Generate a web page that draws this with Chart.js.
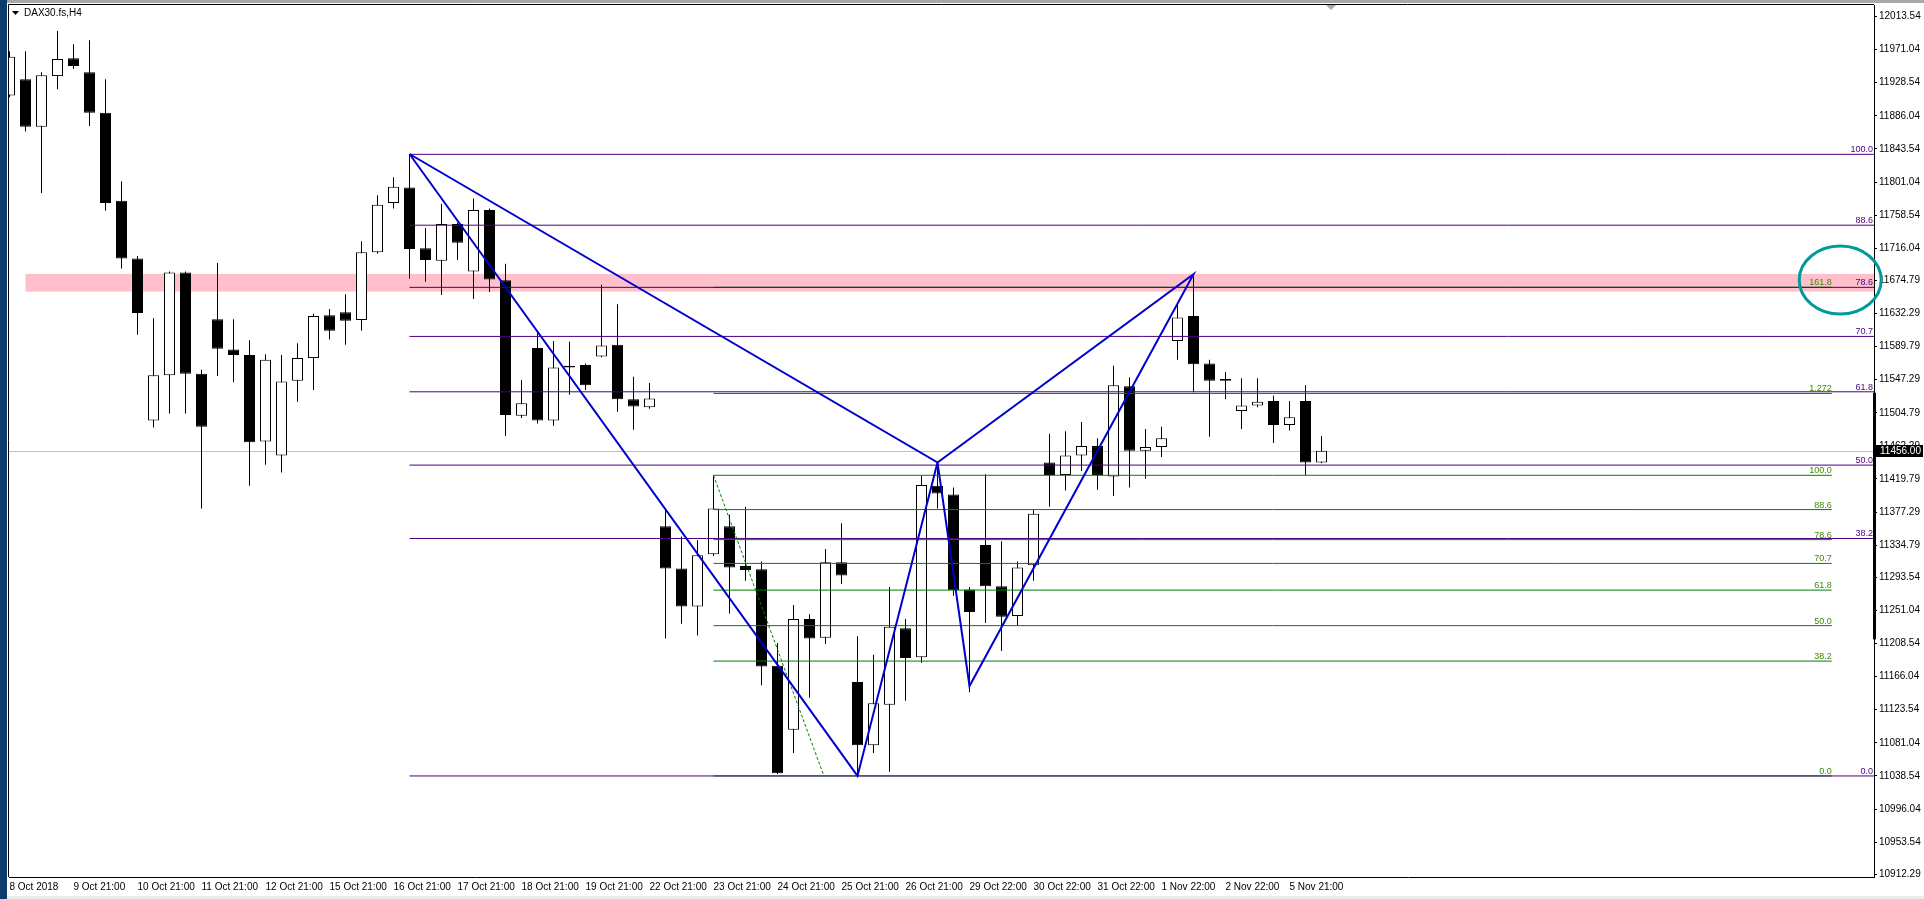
<!DOCTYPE html>
<html>
<head>
<meta charset="utf-8">
<title>DAX30.fs,H4</title>
<script src="https://cdn.jsdelivr.net/npm/chart.js@4.4.1/dist/chart.umd.min.js"></script>
<style>
  html, body { margin: 0; padding: 0; background: #fff; overflow: hidden; }
  #wrap { position: relative; width: 1924px; height: 899px; }
</style>
</head>
<body>
<div id="wrap"><canvas id="chart" width="1924" height="899"></canvas></div>
<script>
// H4 candles, 8 Oct 2018 -> 5 Nov 2018
const candleOpen = [
  11912, 11933, 11872, 11937, 11960, 11942, 11890, 11777, 11703, 11495,
  11553, 11685, 11555, 11625, 11586, 11579, 11468, 11450, 11546, 11575,
  11630, 11634, 11624, 11711, 11774, 11794, 11716, 11700, 11747, 11686,
  11765, 11675, 11501, 11588, 11495, 11565, 11566, 11577, 11592, 11522,
  11512, 11359, 11305, 11256, 11323, 11359, 11308, 11304, 11180, 11098,
  11240, 11216, 11313, 11159, 11078, 11130, 11228, 11191, 11411, 11400,
  11278, 11335, 11282, 11244, 11309, 11441, 11425, 11450, 11462, 11423,
  11539, 11456, 11461, 11597, 11629, 11568, 11548, 11507, 11514, 11520,
  11489, 11520, 11441
];
const candleHigh = [
  11969, 11969, 11942, 11995, 11978, 11983, 11933, 11802, 11706, 11626,
  11686, 11686, 11560, 11697, 11625, 11598, 11580, 11579, 11594, 11632,
  11638, 11657, 11725, 11784, 11807, 11837, 11742, 11773, 11749, 11780,
  11767, 11696, 11547, 11609, 11597, 11596, 11568, 11669, 11644, 11551,
  11543, 11382, 11346, 11341, 11424.5, 11374, 11384, 11314, 11209, 11258,
  11246, 11330, 11363, 11218, 11194, 11281, 11240, 11424, 11441, 11409,
  11281, 11426, 11340, 11314, 11380, 11478, 11481, 11493, 11472, 11565,
  11550, 11484, 11487, 11643, 11682.6, 11573, 11557, 11549, 11549, 11527,
  11520, 11540, 11475
];
const candleLow = [
  11910, 11866, 11787, 11920, 11946, 11873, 11764, 11690, 11605, 11486,
  11504, 11504, 11382, 11552, 11544, 11411, 11438, 11428, 11519, 11534,
  11599, 11592, 11610, 11709, 11767, 11677, 11673, 11656, 11701, 11651,
  11660, 11475, 11498, 11491, 11488, 11528, 11534, 11576, 11506, 11483,
  11510, 11215, 11234, 11219, 11321, 11247, 11289, 11155, 11041, 11068,
  11139, 11208, 11285, 11038.54, 11068, 11044, 11135, 11184, 11382, 11270,
  11146, 11235, 11199, 11231, 11289, 11384, 11405, 11430, 11406, 11398,
  11409, 11420, 11448, 11573, 11531, 11474, 11522, 11484, 11512, 11466,
  11482, 11425, 11440
];
const candleClose = [
  11962, 11872, 11938, 11959, 11950, 11890, 11774, 11703, 11633, 11553,
  11685, 11555, 11487, 11587, 11579, 11467, 11573, 11545, 11575, 11629,
  11610, 11623, 11711, 11772, 11795, 11715, 11701, 11747, 11723, 11765,
  11676, 11502, 11517, 11495, 11563, 11563, 11540, 11591, 11522, 11513,
  11523, 11305, 11256, 11322, 11382, 11306, 11303, 11179, 11042, 11240,
  11215, 11313, 11296, 11078, 11132, 11230, 11190, 11412, 11401, 11277,
  11249, 11282, 11243, 11306, 11375, 11425, 11450, 11462, 11425, 11540,
  11456, 11461, 11472, 11627, 11567, 11546, 11546, 11514, 11519, 11489,
  11499, 11441, 11456
];

// time axis: one label every 4 bars (one trading day)
const dateLabels = [
  '8 Oct 2018', '9 Oct 21:00', '10 Oct 21:00', '11 Oct 21:00', '12 Oct 21:00',
  '15 Oct 21:00', '16 Oct 21:00', '17 Oct 21:00', '18 Oct 21:00', '19 Oct 21:00',
  '22 Oct 21:00', '23 Oct 21:00', '24 Oct 21:00', '25 Oct 21:00', '26 Oct 21:00',
  '29 Oct 22:00', '30 Oct 22:00', '31 Oct 22:00', '1 Nov 22:00', '2 Nov 22:00',
  '5 Nov 21:00'
];
const barsPerLabel = 4;

// price axis labels as the terminal prints them
const priceTicks = [
  12013.54, 11971.04, 11928.54, 11886.04, 11843.54, 11801.04, 11758.54, 11716.04,
  11674.79, 11632.29, 11589.79, 11547.29, 11504.79, 11462.29, 11419.79, 11377.29,
  11334.79, 11293.54, 11251.04, 11208.54, 11166.04, 11123.54, 11081.04, 11038.54,
  10996.04, 10953.54, 10912.29
];
const lastPrice = 11456.00;

// fibonacci retracement X -> A (purple)
const purpleFibLabels = ['100.0', '88.6', '78.6', '70.7', '61.8', '50.0', '38.2', '0.0'];
const purpleFibPrices = [11836.6, 11745.6, 11665.8, 11602.8, 11531.7, 11437.6, 11343.4, 11038.54];
const purpleFibFrom = 25;

// fibonacci 23 Oct high -> low (green)
const greenFibLabels = ['161.8', '1.272', '100.0', '88.6', '78.6', '70.7', '61.8', '50.0', '38.2', '0.0'];
const greenFibPrices = [11665.9, 11529.6, 11424.5, 11380.5, 11341.9, 11311.4, 11277.1, 11231.5, 11186.0, 11038.54];
const greenFibFrom = 44;
const greenFibTo = 113.89;
const greenTrendBars = [44, 50.9];
const greenTrendPrices = [11424.5, 11038.54];

// harmonic pattern X A B C D
const patternBars = [25, 53, 58, 60, 74];
const patternPrices = [11837, 11038.54, 11441, 11154, 11682.6];

// resistance zone and the circled confluence
const pinkZoneFrom = 1;
const pinkZone = [11660.4, 11683.1];
const circleAt = [114.42, 11675.2];
const sideBarRange = [11213.9, 11530.5];

const FONT = '"Liberation Sans", Arial, sans-serif';
const PURPLE = '#4b0082';
const GREEN = '#008000';
const BLUE = '#0000cd';

const idx = candleOpen.map((_, i) => i);
const bodyData = idx.map(i => ({ x: i, y: [candleOpen[i], candleClose[i]] }));
const wickData = idx.map(i => ({ x: i, y: [candleLow[i], candleHigh[i]] }));
const bodyFill = idx.map(i => candleClose[i] >= candleOpen[i] ? '#ffffff' : '#000000');

function pt(i) { return { x: patternBars[i], y: patternPrices[i] }; }

function hLine(from, to, price, color) {
  return {
    type: 'line',
    data: [{ x: from, y: price }, { x: to, y: price }],
    borderColor: color,
    borderWidth: 1,
    pointRadius: 0,
    order: -1
  };
}

const datasets = [
  {
    type: 'bar', data: bodyData, backgroundColor: bodyFill, borderColor: '#000',
    borderWidth: 1, borderSkipped: false, barThickness: 11, grouped: false,
    inflateAmount: 0, order: 0
  },
  {
    type: 'bar', data: wickData, backgroundColor: '#000', borderWidth: 0,
    barThickness: 1, grouped: false, inflateAmount: 0, order: 1
  }
];
purpleFibPrices.forEach(p => datasets.push(hLine(purpleFibFrom, 120, p, PURPLE)));
greenFibPrices.forEach(p => datasets.push(hLine(greenFibFrom, greenFibTo, p, GREEN)));
datasets.push({
  type: 'line',
  data: greenTrendBars.map((b, i) => ({ x: b, y: greenTrendPrices[i] })),
  borderColor: GREEN, borderWidth: 1, borderDash: [3, 2], pointRadius: 0, order: -2
});
datasets.push({
  type: 'line', data: [pt(0), pt(1), pt(2), pt(0)],
  borderColor: BLUE, borderWidth: 2, pointRadius: 0, order: -3
});
datasets.push({
  type: 'line', data: [pt(2), pt(3), pt(4), pt(2)],
  borderColor: BLUE, borderWidth: 2, pointRadius: 0, order: -3
});

const mtDecor = {
  id: 'mtDecor',
  beforeDraw(chart) {
    const { ctx, width, height } = chart;
    ctx.save();
    ctx.fillStyle = '#ffffff';
    ctx.fillRect(0, 0, width, height);
    ctx.fillStyle = '#a8a8a8';
    ctx.fillRect(0, 0, width, 3);
    ctx.fillStyle = '#0e3a6c';
    ctx.fillRect(0, 0, 7, height);
    ctx.fillStyle = '#ececec';
    ctx.fillRect(7, height - 3, width, 3);
    ctx.restore();
  },
  beforeDatasetsDraw(chart) {
    const { ctx, chartArea: a, scales: { x, y } } = chart;
    ctx.save();
    ctx.beginPath();
    ctx.rect(a.left, a.top, a.right - a.left, a.bottom - a.top);
    ctx.clip();
    const zx = x.getPixelForValue(pinkZoneFrom);
    const yTop = y.getPixelForValue(pinkZone[1]);
    const yBot = y.getPixelForValue(pinkZone[0]);
    ctx.fillStyle = '#ffc0cb';
    ctx.fillRect(zx, yTop, a.right - zx, yBot - yTop);
    const py = Math.round(y.getPixelForValue(lastPrice)) + 0.5;
    ctx.strokeStyle = '#c0c0c0';
    ctx.lineWidth = 1;
    ctx.beginPath();
    ctx.moveTo(a.left, py);
    ctx.lineTo(a.right, py);
    ctx.stroke();
    ctx.restore();
  },
  afterDatasetsDraw(chart) {
    const { ctx, chartArea: a, scales: { x, y } } = chart;
    ctx.save();
    ctx.font = '9px ' + FONT;
    ctx.textAlign = 'right';
    ctx.textBaseline = 'alphabetic';
    ctx.fillStyle = PURPLE;
    purpleFibPrices.forEach((p, i) => {
      ctx.fillText(purpleFibLabels[i], a.right - 1, y.getPixelForValue(p) - 2);
    });
    ctx.fillStyle = '#3f8a00';
    const gx = x.getPixelForValue(greenFibTo);
    greenFibPrices.forEach((p, i) => {
      ctx.fillText(greenFibLabels[i], gx, y.getPixelForValue(p) - 2);
    });
    // circled confluence
    ctx.strokeStyle = '#009a9a';
    ctx.lineWidth = 3;
    ctx.beginPath();
    ctx.ellipse(x.getPixelForValue(circleAt[0]), y.getPixelForValue(circleAt[1]), 41, 34, 0, 0, Math.PI * 2);
    ctx.stroke();
    ctx.restore();
  },
  afterDraw(chart) {
    const { ctx, chartArea: a, scales: { y } } = chart;
    ctx.save();
    // frame left/top
    ctx.strokeStyle = '#000';
    ctx.lineWidth = 1;
    ctx.beginPath();
    ctx.moveTo(a.left - 0.5, a.bottom);
    ctx.lineTo(a.left - 0.5, a.top - 0.5);
    ctx.lineTo(a.right, a.top - 0.5);
    ctx.stroke();
    // thick bar on the price scale
    const sTop = y.getPixelForValue(sideBarRange[1]);
    const sBot = y.getPixelForValue(sideBarRange[0]);
    ctx.fillStyle = '#000';
    ctx.fillRect(a.right - 1, sTop, 3, sBot - sTop);
    // last price box
    const py = Math.round(y.getPixelForValue(lastPrice));
    ctx.fillRect(a.right + 1, py - 6, 48, 12);
    ctx.fillStyle = '#fff';
    ctx.font = '10px ' + FONT;
    ctx.textAlign = 'left';
    ctx.textBaseline = 'middle';
    ctx.fillText(lastPrice.toFixed(2), a.right + 6, py);
    // symbol caption
    ctx.fillStyle = '#000';
    ctx.beginPath();
    ctx.moveTo(12, 11); ctx.lineTo(19, 11); ctx.lineTo(15.5, 15);
    ctx.closePath();
    ctx.fill();
    ctx.fillText('DAX30.fs,H4', 24, 13);
    // chart shift marker
    ctx.fillStyle = '#a8a8a8';
    ctx.beginPath();
    ctx.moveTo(1326, a.top); ctx.lineTo(1336, a.top); ctx.lineTo(1331, a.top + 5);
    ctx.closePath();
    ctx.fill();
    ctx.restore();
  }
};

Chart.defaults.font.family = FONT;
Chart.defaults.font.size = 10;
Chart.defaults.color = '#000';

new Chart(document.getElementById('chart'), {
  type: 'bar',
  data: { datasets },
  options: {
    responsive: false,
    animation: false,
    events: [],
    layout: { padding: { left: 9, top: 5, right: 0, bottom: 0 } },
    plugins: { legend: { display: false }, tooltip: { enabled: false } },
    scales: {
      x: {
        type: 'linear',
        offset: false,
        min: -0.03125,
        max: 116.53125,
        afterBuildTicks: s => { s.ticks = dateLabels.map((_, k) => ({ value: k * barsPerLabel })); },
        afterFit: s => { s.height = 22; s.paddingLeft = 0; s.paddingRight = 0; },
        ticks: {
          autoSkip: false, maxRotation: 0, align: 'start', padding: 4,
          callback: (v, i) => dateLabels[i]
        },
        grid: { offset: false, drawOnChartArea: false, drawTicks: false },
        border: { color: '#000' }
      },
      y: {
        position: 'right',
        min: 10908.8,
        max: 12028.3,
        afterBuildTicks: s => { s.ticks = priceTicks.map(v => ({ value: v })); },
        afterFit: s => { s.width = 50; s.paddingTop = 0; s.paddingBottom = 0; },
        ticks: { autoSkip: false, padding: 2, callback: v => v.toFixed(2) },
        grid: { drawOnChartArea: false, tickLength: 3, color: '#000' },
        border: { color: '#000' }
      }
    }
  },
  plugins: [mtDecor]
});
</script>
</body>
</html>
